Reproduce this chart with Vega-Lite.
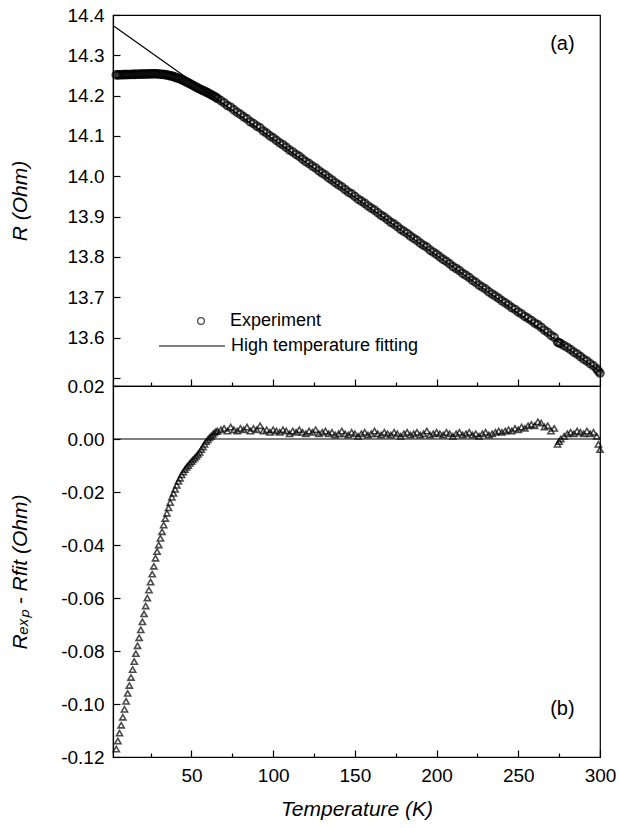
{
  "$schema": "https://vega.github.io/schema/vega-lite/v6.json",
  "background": "white",
  "padding": {"left": 8, "top": 5, "right": 0, "bottom": 0},
  "bounds": "flush",
  "spacing": 0,
  "config": {
    "view": {"stroke": "black", "strokeWidth": 1.2},
    "font": "Liberation Sans",
    "axis": {
      "grid": false, "domainColor": "black", "domainWidth": 1.2, "tickColor": "black", "tickWidth": 1.2,
      "labelColor": "black", "labelFont": "Liberation Sans", "labelFontSize": 19, "labelOverlap": false,
      "titleColor": "black", "titleFont": "Liberation Sans", "titleFontSize": 21, "titleFontWeight": "normal", "titleFontStyle": "italic"
    },
    "legend": {"labelFont": "Liberation Sans", "labelFontSize": 18, "labelColor": "black", "title": null, "labelLimit": 400}
  },
  "datasets": {
    "exp": [
      {"T":4,"R":14.2515,"D":-0.117},{"T":5,"R":14.2516,"D":-0.114},{"T":6,"R":14.2517,"D":-0.111},{"T":7,"R":14.2518,"D":-0.108},
      {"T":8,"R":14.2520,"D":-0.105},{"T":9,"R":14.2521,"D":-0.102},{"T":10,"R":14.2522,"D":-0.099},{"T":11,"R":14.2523,"D":-0.096},
      {"T":12,"R":14.2524,"D":-0.093},{"T":13,"R":14.2526,"D":-0.090},{"T":14,"R":14.2527,"D":-0.087},{"T":15,"R":14.2528,"D":-0.084},
      {"T":16,"R":14.2529,"D":-0.081},{"T":17,"R":14.2530,"D":-0.078},{"T":18,"R":14.2532,"D":-0.075},{"T":19,"R":14.2533,"D":-0.072},
      {"T":20,"R":14.2534,"D":-0.069},{"T":21,"R":14.2535,"D":-0.066},{"T":22,"R":14.2536,"D":-0.063},{"T":23,"R":14.2538,"D":-0.060},
      {"T":24,"R":14.2539,"D":-0.057},{"T":25,"R":14.2540,"D":-0.054},{"T":26,"R":14.2541,"D":-0.051},{"T":27,"R":14.2542,"D":-0.048},
      {"T":28,"R":14.2544,"D":-0.045},{"T":29,"R":14.2540,"D":-0.0425},{"T":30,"R":14.2536,"D":-0.040},{"T":31,"R":14.2532,"D":-0.0375},
      {"T":32,"R":14.2528,"D":-0.035},{"T":33,"R":14.2525,"D":-0.0325},{"T":34,"R":14.2521,"D":-0.030},{"T":35,"R":14.2512,"D":-0.028},
      {"T":36,"R":14.2503,"D":-0.026},{"T":37,"R":14.2494,"D":-0.024},{"T":38,"R":14.2486,"D":-0.022},{"T":39,"R":14.2472,"D":-0.0205},
      {"T":40,"R":14.2458,"D":-0.019},{"T":41,"R":14.2444,"D":-0.0175},{"T":42,"R":14.2430,"D":-0.016},{"T":43,"R":14.2414,"D":-0.0148},
      {"T":44,"R":14.2398,"D":-0.0135},{"T":45,"R":14.2379,"D":-0.0125},{"T":46,"R":14.2360,"D":-0.0115},{"T":47,"R":14.2339,"D":-0.0107},
      {"T":48,"R":14.2318,"D":-0.010},{"T":49,"R":14.2297,"D":-0.0092},{"T":50,"R":14.2275,"D":-0.0085},{"T":51,"R":14.2253,"D":-0.0078},
      {"T":52,"R":14.2230,"D":-0.0072},{"T":53,"R":14.2209,"D":-0.0065},{"T":54,"R":14.2187,"D":-0.0058},{"T":55,"R":14.2166,"D":-0.005},
      {"T":56,"R":14.2147,"D":-0.004},{"T":57,"R":14.2128,"D":-0.003},{"T":58,"R":14.2110,"D":-0.002},{"T":59,"R":14.2091,"D":-0.001},
      {"T":60,"R":14.2069,"D":-0.0003},{"T":61,"R":14.2048,"D":0.0005},{"T":62,"R":14.2024,"D":0.001},{"T":63,"R":14.2003,"D":0.0017},
      {"T":64,"R":14.1980,"D":0.0023},{"T":65,"R":14.1956,"D":0.0028},
      {"T":66,"R":14.1929,"D":0.003},{"T":68,"R":14.1877,"D":0.0035},{"T":70,"R":14.1824,"D":0.004},{"T":72,"R":14.1756,"D":0.003},
      {"T":74,"R":14.1714,"D":0.0045},{"T":76,"R":14.1646,"D":0.0035},{"T":78,"R":14.1584,"D":0.003},{"T":80,"R":14.1536,"D":0.004},
      {"T":82,"R":14.1473,"D":0.0035},{"T":84,"R":14.1426,"D":0.0045},{"T":86,"R":14.1353,"D":0.003},{"T":88,"R":14.1306,"D":0.004},
      {"T":90,"R":14.1243,"D":0.0035},{"T":92,"R":14.1200,"D":0.005},{"T":94,"R":14.1123,"D":0.003},{"T":96,"R":14.1070,"D":0.0035},
      {"T":98,"R":14.1003,"D":0.0025},{"T":100,"R":14.0955,"D":0.0035},{"T":102,"R":14.0892,"D":0.003},{"T":104,"R":14.0830,"D":0.0025},
      {"T":106,"R":14.0782,"D":0.0035},{"T":108,"R":14.0720,"D":0.003},{"T":110,"R":14.0652,"D":0.002},{"T":112,"R":14.0604,"D":0.003},
      {"T":114,"R":14.0542,"D":0.0025},{"T":116,"R":14.0494,"D":0.0035},{"T":118,"R":14.0427,"D":0.0025},{"T":120,"R":14.0364,"D":0.002},
      {"T":122,"R":14.0316,"D":0.003},{"T":124,"R":14.0254,"D":0.0025},{"T":126,"R":14.0206,"D":0.0035},{"T":128,"R":14.0134,"D":0.002},
      {"T":130,"R":14.0081,"D":0.0025},{"T":132,"R":14.0028,"D":0.003},{"T":134,"R":13.9961,"D":0.002},{"T":136,"R":13.9908,"D":0.0025},
      {"T":138,"R":13.9841,"D":0.0015},{"T":140,"R":13.9788,"D":0.002},{"T":142,"R":13.9740,"D":0.003},{"T":144,"R":13.9673,"D":0.002},
      {"T":146,"R":13.9610,"D":0.0015},{"T":148,"R":13.9563,"D":0.0025},{"T":150,"R":13.9500,"D":0.002},{"T":152,"R":13.9432,"D":0.001},
      {"T":154,"R":13.9385,"D":0.002},{"T":156,"R":13.9332,"D":0.0025},{"T":158,"R":13.9265,"D":0.0015},{"T":160,"R":13.9212,"D":0.002},
      {"T":162,"R":13.9164,"D":0.003},{"T":164,"R":13.9097,"D":0.002},{"T":166,"R":13.9034,"D":0.0015},{"T":168,"R":13.8987,"D":0.0025},
      {"T":170,"R":13.8924,"D":0.002},{"T":172,"R":13.8861,"D":0.0015},{"T":174,"R":13.8814,"D":0.0025},{"T":176,"R":13.8751,"D":0.002},
      {"T":178,"R":13.8684,"D":0.001},{"T":180,"R":13.8636,"D":0.002},{"T":182,"R":13.8583,"D":0.0025},{"T":184,"R":13.8516,"D":0.0015},
      {"T":186,"R":13.8463,"D":0.002},{"T":188,"R":13.8411,"D":0.0025},{"T":190,"R":13.8343,"D":0.0015},{"T":192,"R":13.8290,"D":0.002},
      {"T":194,"R":13.8243,"D":0.003},{"T":196,"R":13.8170,"D":0.0015},{"T":198,"R":13.8118,"D":0.002},{"T":200,"R":13.8065,"D":0.0025},
      {"T":202,"R":13.8002,"D":0.002},{"T":204,"R":13.7940,"D":0.0015},{"T":206,"R":13.7892,"D":0.0025},{"T":208,"R":13.7830,"D":0.002},
      {"T":210,"R":13.7762,"D":0.001},{"T":212,"R":13.7714,"D":0.002},{"T":214,"R":13.7662,"D":0.0025},{"T":216,"R":13.7594,"D":0.0015},
      {"T":218,"R":13.7542,"D":0.002},{"T":220,"R":13.7489,"D":0.0025},{"T":222,"R":13.7421,"D":0.0015},{"T":224,"R":13.7369,"D":0.002},
      {"T":226,"R":13.7301,"D":0.001},{"T":228,"R":13.7254,"D":0.002},{"T":230,"R":13.7201,"D":0.0025},{"T":232,"R":13.7133,"D":0.0015},
      {"T":234,"R":13.7081,"D":0.002},{"T":236,"R":13.7028,"D":0.0025},{"T":238,"R":13.6976,"D":0.003},{"T":240,"R":13.6913,"D":0.0025},
      {"T":242,"R":13.6860,"D":0.003},{"T":244,"R":13.6808,"D":0.0035},{"T":246,"R":13.6745,"D":0.003},{"T":248,"R":13.6698,"D":0.004},
      {"T":250,"R":13.6635,"D":0.0035},{"T":252,"R":13.6587,"D":0.0045},{"T":254,"R":13.6525,"D":0.004},{"T":256,"R":13.6477,"D":0.005},
      {"T":258,"R":13.6425,"D":0.0055},{"T":260,"R":13.6362,"D":0.005},{"T":262,"R":13.6319,"D":0.0065},{"T":264,"R":13.6257,"D":0.006},
      {"T":266,"R":13.6184,"D":0.0045},{"T":268,"R":13.6132,"D":0.005},{"T":270,"R":13.6054,"D":0.003},{"T":272,"R":13.6006,"D":0.004},
      {"T":274,"R":13.5889,"D":-0.002},{"T":275,"R":13.5870,"D":-0.001},{"T":276,"R":13.5851,"D":0.000},{"T":278,"R":13.5804,"D":0.001},
      {"T":280,"R":13.5756,"D":0.002},{"T":282,"R":13.5703,"D":0.0025},{"T":284,"R":13.5641,"D":0.002},{"T":286,"R":13.5593,"D":0.003},
      {"T":288,"R":13.5531,"D":0.0025},{"T":290,"R":13.5468,"D":0.002},{"T":292,"R":13.5420,"D":0.003},{"T":294,"R":13.5353,"D":0.002},
      {"T":296,"R":13.5300,"D":0.0025},{"T":298,"R":13.5228,"D":0.001},{"T":299,"R":13.5169,"D":-0.002},{"T":300,"R":13.5120,"D":-0.004}
    ],
    "fit": [{"T": 2, "F": 14.3742}, {"T": 300, "F": 13.516}]
  },
  "vconcat": [
    {
      "width": 487,
      "height": 371,
      "layer": [
        {
          "data": {"name": "fit"},
          "mark": {"type": "line", "color": "black", "strokeWidth": 1.2},
          "encoding": {
            "x": {"field": "T", "type": "quantitative", "scale": {"domain": [2, 300], "nice": false},
              "axis": {"values": [25,50,75,100,125,150,175,200,225,250,275,300], "labels": false, "title": null,
                "tickSize": {"condition": {"test": "datum.value % 50 === 0", "value": -7}, "value": -4}}},
            "y": {"field": "F", "type": "quantitative", "scale": {"domain": [13.48, 14.4], "nice": false, "zero": false},
              "axis": {"values": [13.5,13.55,13.6,13.65,13.7,13.75,13.8,13.85,13.9,13.95,14,14.05,14.1,14.15,14.2,14.25,14.3,14.35,14.4],
                "labelOverlap": false,
                "labelExpr": "datum.value > 13.55 && abs(datum.value*10 - round(datum.value*10)) < 0.001 ? format(datum.value, '.1f') : ''",
                "tickSize": {"condition": {"test": "abs(datum.value*10 - round(datum.value*10)) < 0.001", "value": -7}, "value": -4},
                "labelPadding": 16, "title": "R (Ohm)", "titleX": -93, "titleBaseline": "middle"}},
            "color": {"datum": "High temperature fitting", "scale": {"domain": ["High temperature fitting"], "range": ["black"]},
              "legend": {"orient": "none", "legendX": 45, "legendY": 297, "symbolType": "stroke", "symbolSize": 4356, "symbolStrokeWidth": 1.2, "symbolStrokeColor": "black", "labelOffset": 5}}
          }
        },
        {
          "data": {"name": "exp"},
          "mark": {"type": "point", "filled": false, "color": "black", "size": 55, "strokeWidth": 2.2},
          "encoding": {
            "x": {"field": "T", "type": "quantitative"},
            "y": {"field": "R", "type": "quantitative"},
            "shape": {"datum": "Experiment", "scale": {"domain": ["Experiment"], "range": ["circle"]},
              "legend": {"orient": "none", "legendX": 79, "legendY": 297, "symbolSize": 45, "symbolStrokeWidth": 1.3, "symbolStrokeColor": "black", "symbolFillColor": "transparent", "labelOffset": 20}}
          }
        },
        {
          "data": {"values": [{}]},
          "mark": {"type": "text", "fontSize": 20, "font": "Liberation Sans", "color": "black"},
          "encoding": {"x": {"datum": 277, "type": "quantitative"}, "y": {"datum": 14.328, "type": "quantitative"}, "text": {"value": "(a)"}}
        }
      ]
    },
    {
      "width": 487,
      "height": 371,
      "layer": [
        {
          "data": {"values": [{}]},
          "mark": {"type": "rule", "color": "black", "strokeWidth": 1.2},
          "encoding": {"y": {"datum": 0, "type": "quantitative"}}
        },
        {
          "data": {"name": "exp"},
          "mark": {"type": "point", "shape": "triangle-up", "filled": false, "color": "black", "size": 38, "strokeWidth": 1.6},
          "encoding": {
            "x": {"field": "T", "type": "quantitative", "scale": {"domain": [2, 300], "nice": false},
              "axis": {"values": [25,50,75,100,125,150,175,200,225,250,275,300], "labelOverlap": false, "labelFlush": false,
                "labelExpr": "datum.value % 50 === 0 ? datum.label : ''",
                "tickSize": {"condition": {"test": "datum.value % 50 === 0", "value": -7}, "value": -4},
                "labelPadding": 16, "title": "Temperature (K)", "titlePadding": 10}},
            "y": {"field": "D", "type": "quantitative", "scale": {"domain": [-0.12, 0.02], "nice": false, "zero": false},
              "axis": {"values": [-0.12,-0.11,-0.1,-0.09,-0.08,-0.07,-0.06,-0.05,-0.04,-0.03,-0.02,-0.01,0,0.01,0.02], "labelOverlap": false,
                "labelExpr": "abs(datum.value*50 - round(datum.value*50)) < 0.001 ? replace(format(datum.value, '.2f'), '\u2212', '-') : ''",
                "tickSize": {"condition": {"test": "abs(datum.value*50 - round(datum.value*50)) < 0.001", "value": -7}, "value": -4},
                "labelPadding": 16, "title": "Rₑₓₚ - Rfit (Ohm)", "titleX": -93, "titleBaseline": "middle"}}
          }
        },
        {
          "data": {"values": [{}]},
          "mark": {"type": "text", "fontSize": 20, "font": "Liberation Sans", "color": "black"},
          "encoding": {"x": {"datum": 277, "type": "quantitative"}, "y": {"datum": -0.102, "type": "quantitative"}, "text": {"value": "(b)"}}
        }
      ]
    }
  ]
}
